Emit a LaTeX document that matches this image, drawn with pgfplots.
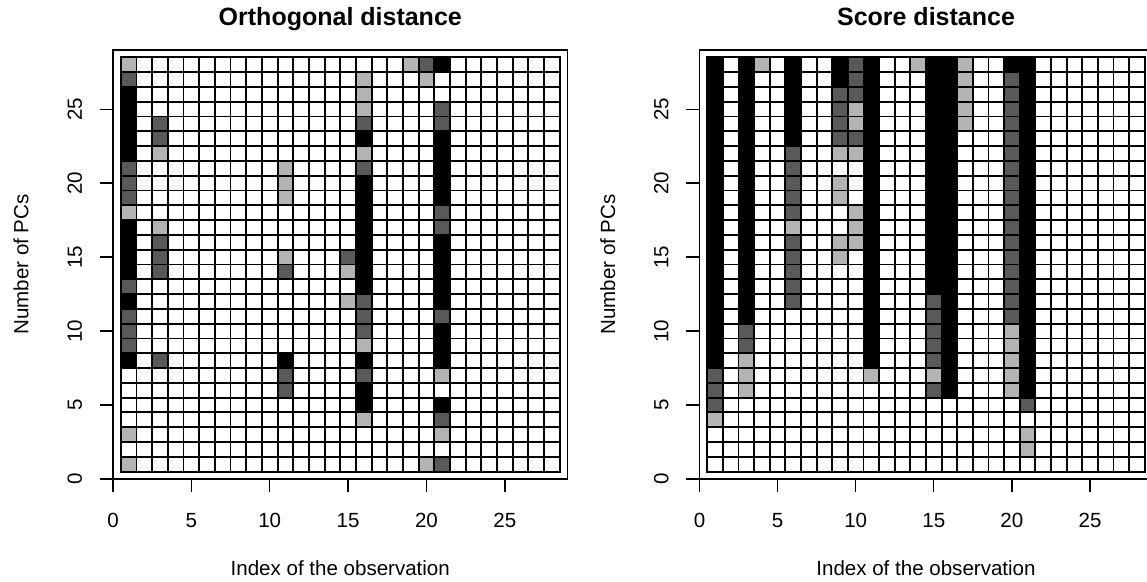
\documentclass[border=0pt]{standalone}
\usepackage{fontspec}
\setmainfont{Liberation Sans}
\usepackage{pgfplots}
\usepackage{pgfplotstable}
\pgfplotsset{compat=1.18}
\definecolor{lg}{HTML}{B3B3B3}
\definecolor{dg}{HTML}{595959}
\newcommand\tfs{\fontsize{15.4}{18}\selectfont}
\newcommand\ttfs{\fontsize{18.75}{22}\selectfont\bfseries}
% 0 = white, 1 = light grey, 2 = dark grey, 3 = black ; rows y=1..28, x=1..28
\pgfplotstableread[header=false,row sep=\\]{
1\\0\\0\\0\\0\\0\\0\\ 0\\0\\0\\0\\0\\0\\0\\ 0\\0\\0\\0\\0\\1\\2\\ 0\\0\\0\\0\\0\\0\\0\\
0\\0\\0\\0\\0\\0\\0\\ 0\\0\\0\\0\\0\\0\\0\\ 0\\0\\0\\0\\0\\0\\0\\ 0\\0\\0\\0\\0\\0\\0\\
1\\0\\0\\0\\0\\0\\0\\ 0\\0\\0\\0\\0\\0\\0\\ 0\\0\\0\\0\\0\\0\\1\\ 0\\0\\0\\0\\0\\0\\0\\
0\\0\\0\\0\\0\\0\\0\\ 0\\0\\0\\0\\0\\0\\0\\ 0\\1\\0\\0\\0\\0\\2\\ 0\\0\\0\\0\\0\\0\\0\\
0\\0\\0\\0\\0\\0\\0\\ 0\\0\\0\\0\\0\\0\\0\\ 0\\3\\0\\0\\0\\0\\3\\ 0\\0\\0\\0\\0\\0\\0\\
0\\0\\0\\0\\0\\0\\0\\ 0\\0\\0\\2\\0\\0\\0\\ 0\\3\\0\\0\\0\\0\\0\\ 0\\0\\0\\0\\0\\0\\0\\
0\\0\\0\\0\\0\\0\\0\\ 0\\0\\0\\2\\0\\0\\0\\ 0\\2\\0\\0\\0\\0\\1\\ 0\\0\\0\\0\\0\\0\\0\\
3\\0\\2\\0\\0\\0\\0\\ 0\\0\\0\\3\\0\\0\\0\\ 0\\3\\0\\0\\0\\0\\3\\ 0\\0\\0\\0\\0\\0\\0\\
2\\0\\0\\0\\0\\0\\0\\ 0\\0\\0\\0\\0\\0\\0\\ 0\\1\\0\\0\\0\\0\\3\\ 0\\0\\0\\0\\0\\0\\0\\
2\\0\\0\\0\\0\\0\\0\\ 0\\0\\0\\0\\0\\0\\0\\ 0\\2\\0\\0\\0\\0\\3\\ 0\\0\\0\\0\\0\\0\\0\\
2\\0\\0\\0\\0\\0\\0\\ 0\\0\\0\\0\\0\\0\\0\\ 0\\2\\0\\0\\0\\0\\2\\ 0\\0\\0\\0\\0\\0\\0\\
3\\0\\0\\0\\0\\0\\0\\ 0\\0\\0\\0\\0\\0\\0\\ 1\\2\\0\\0\\0\\0\\3\\ 0\\0\\0\\0\\0\\0\\0\\
2\\0\\0\\0\\0\\0\\0\\ 0\\0\\0\\0\\0\\0\\0\\ 0\\3\\0\\0\\0\\0\\3\\ 0\\0\\0\\0\\0\\0\\0\\
3\\0\\2\\0\\0\\0\\0\\ 0\\0\\0\\2\\0\\0\\0\\ 1\\3\\0\\0\\0\\0\\3\\ 0\\0\\0\\0\\0\\0\\0\\
3\\0\\2\\0\\0\\0\\0\\ 0\\0\\0\\1\\0\\0\\0\\ 2\\3\\0\\0\\0\\0\\3\\ 0\\0\\0\\0\\0\\0\\0\\
3\\0\\2\\0\\0\\0\\0\\ 0\\0\\0\\0\\0\\0\\0\\ 0\\3\\0\\0\\0\\0\\3\\ 0\\0\\0\\0\\0\\0\\0\\
3\\0\\1\\0\\0\\0\\0\\ 0\\0\\0\\0\\0\\0\\0\\ 0\\3\\0\\0\\0\\0\\2\\ 0\\0\\0\\0\\0\\0\\0\\
1\\0\\0\\0\\0\\0\\0\\ 0\\0\\0\\0\\0\\0\\0\\ 0\\3\\0\\0\\0\\0\\2\\ 0\\0\\0\\0\\0\\0\\0\\
2\\0\\0\\0\\0\\0\\0\\ 0\\0\\0\\1\\0\\0\\0\\ 0\\3\\0\\0\\0\\0\\3\\ 0\\0\\0\\0\\0\\0\\0\\
2\\0\\0\\0\\0\\0\\0\\ 0\\0\\0\\1\\0\\0\\0\\ 0\\3\\0\\0\\0\\0\\3\\ 0\\0\\0\\0\\0\\0\\0\\
2\\0\\0\\0\\0\\0\\0\\ 0\\0\\0\\1\\0\\0\\0\\ 0\\2\\0\\0\\0\\0\\3\\ 0\\0\\0\\0\\0\\0\\0\\
3\\0\\1\\0\\0\\0\\0\\ 0\\0\\0\\0\\0\\0\\0\\ 0\\1\\0\\0\\0\\0\\3\\ 0\\0\\0\\0\\0\\0\\0\\
3\\0\\2\\0\\0\\0\\0\\ 0\\0\\0\\0\\0\\0\\0\\ 0\\3\\0\\0\\0\\0\\3\\ 0\\0\\0\\0\\0\\0\\0\\
3\\0\\2\\0\\0\\0\\0\\ 0\\0\\0\\0\\0\\0\\0\\ 0\\2\\0\\0\\0\\0\\2\\ 0\\0\\0\\0\\0\\0\\0\\
3\\0\\0\\0\\0\\0\\0\\ 0\\0\\0\\0\\0\\0\\0\\ 0\\1\\0\\0\\0\\0\\2\\ 0\\0\\0\\0\\0\\0\\0\\
3\\0\\0\\0\\0\\0\\0\\ 0\\0\\0\\0\\0\\0\\0\\ 0\\1\\0\\0\\0\\0\\0\\ 0\\0\\0\\0\\0\\0\\0\\
2\\0\\0\\0\\0\\0\\0\\ 0\\0\\0\\0\\0\\0\\0\\ 0\\1\\0\\0\\0\\1\\0\\ 0\\0\\0\\0\\0\\0\\0\\
1\\0\\0\\0\\0\\0\\0\\ 0\\0\\0\\0\\0\\0\\0\\ 0\\0\\0\\0\\1\\2\\3\\ 0\\0\\0\\0\\0\\0\\0\\
}\ortho
\pgfplotstableread[header=false,row sep=\\]{
0\\0\\0\\0\\0\\0\\0\\ 0\\0\\0\\0\\0\\0\\0\\ 0\\0\\0\\0\\0\\0\\0\\ 0\\0\\0\\0\\0\\0\\0\\
0\\0\\0\\0\\0\\0\\0\\ 0\\0\\0\\0\\0\\0\\0\\ 0\\0\\0\\0\\0\\0\\1\\ 0\\0\\0\\0\\0\\0\\0\\
0\\0\\0\\0\\0\\0\\0\\ 0\\0\\0\\0\\0\\0\\0\\ 0\\0\\0\\0\\0\\0\\1\\ 0\\0\\0\\0\\0\\0\\0\\
1\\0\\0\\0\\0\\0\\0\\ 0\\0\\0\\0\\0\\0\\0\\ 0\\0\\0\\0\\0\\0\\0\\ 0\\0\\0\\0\\0\\0\\0\\
2\\0\\0\\0\\0\\0\\0\\ 0\\0\\0\\0\\0\\0\\0\\ 0\\0\\0\\0\\0\\0\\2\\ 0\\0\\0\\0\\0\\0\\0\\
2\\0\\1\\0\\0\\0\\0\\ 0\\0\\0\\0\\0\\0\\0\\ 2\\3\\0\\0\\0\\1\\3\\ 0\\0\\0\\0\\0\\0\\0\\
2\\0\\1\\0\\0\\0\\0\\ 0\\0\\0\\1\\0\\0\\0\\ 1\\3\\0\\0\\0\\1\\3\\ 0\\0\\0\\0\\0\\0\\0\\
3\\0\\1\\0\\0\\0\\0\\ 0\\0\\0\\3\\0\\0\\0\\ 2\\3\\0\\0\\0\\1\\3\\ 0\\0\\0\\0\\0\\0\\0\\
3\\0\\2\\0\\0\\0\\0\\ 0\\0\\0\\3\\0\\0\\0\\ 2\\3\\0\\0\\0\\1\\3\\ 0\\0\\0\\0\\0\\0\\0\\
3\\0\\2\\0\\0\\0\\0\\ 0\\0\\0\\3\\0\\0\\0\\ 2\\3\\0\\0\\0\\1\\3\\ 0\\0\\0\\0\\0\\0\\0\\
3\\0\\3\\0\\0\\0\\0\\ 0\\0\\0\\3\\0\\0\\0\\ 2\\3\\0\\0\\0\\2\\3\\ 0\\0\\0\\0\\0\\0\\0\\
3\\0\\3\\0\\0\\2\\0\\ 0\\0\\0\\3\\0\\0\\0\\ 2\\3\\0\\0\\0\\2\\3\\ 0\\0\\0\\0\\0\\0\\0\\
3\\0\\3\\0\\0\\2\\0\\ 0\\0\\0\\3\\0\\0\\0\\ 3\\3\\0\\0\\0\\2\\3\\ 0\\0\\0\\0\\0\\0\\0\\
3\\0\\3\\0\\0\\2\\0\\ 0\\0\\0\\3\\0\\0\\0\\ 3\\3\\0\\0\\0\\2\\3\\ 0\\0\\0\\0\\0\\0\\0\\
3\\0\\3\\0\\0\\2\\0\\ 0\\1\\0\\3\\0\\0\\0\\ 3\\3\\0\\0\\0\\2\\3\\ 0\\0\\0\\0\\0\\0\\0\\
3\\0\\3\\0\\0\\2\\0\\ 0\\1\\1\\3\\0\\0\\0\\ 3\\3\\0\\0\\0\\2\\3\\ 0\\0\\0\\0\\0\\0\\0\\
3\\0\\3\\0\\0\\1\\0\\ 0\\0\\1\\3\\0\\0\\0\\ 3\\3\\0\\0\\0\\2\\3\\ 0\\0\\0\\0\\0\\0\\0\\
3\\0\\3\\0\\0\\2\\0\\ 0\\0\\1\\3\\0\\0\\0\\ 3\\3\\0\\0\\0\\2\\3\\ 0\\0\\0\\0\\0\\0\\0\\
3\\0\\3\\0\\0\\2\\0\\ 0\\1\\0\\3\\0\\0\\0\\ 3\\3\\0\\0\\0\\2\\3\\ 0\\0\\0\\0\\0\\0\\0\\
3\\0\\3\\0\\0\\2\\0\\ 0\\1\\0\\3\\0\\0\\0\\ 3\\3\\0\\0\\0\\2\\3\\ 0\\0\\0\\0\\0\\0\\0\\
3\\0\\3\\0\\0\\2\\0\\ 0\\0\\0\\3\\0\\0\\0\\ 3\\3\\0\\0\\0\\2\\3\\ 0\\0\\0\\0\\0\\0\\0\\
3\\0\\3\\0\\0\\2\\0\\ 0\\1\\1\\3\\0\\0\\0\\ 3\\3\\0\\0\\0\\2\\3\\ 0\\0\\0\\0\\0\\0\\0\\
3\\0\\3\\0\\0\\3\\0\\ 0\\2\\2\\3\\0\\0\\0\\ 3\\3\\0\\0\\0\\2\\3\\ 0\\0\\0\\0\\0\\0\\0\\
3\\0\\3\\0\\0\\3\\0\\ 0\\2\\1\\3\\0\\0\\0\\ 3\\3\\1\\0\\0\\2\\3\\ 0\\0\\0\\0\\0\\0\\0\\
3\\0\\3\\0\\0\\3\\0\\ 0\\2\\1\\3\\0\\0\\0\\ 3\\3\\1\\0\\0\\2\\3\\ 0\\0\\0\\0\\0\\0\\0\\
3\\0\\3\\0\\0\\3\\0\\ 0\\2\\2\\3\\0\\0\\0\\ 3\\3\\1\\0\\0\\2\\3\\ 0\\0\\0\\0\\0\\0\\0\\
3\\0\\3\\0\\0\\3\\0\\ 0\\3\\2\\3\\0\\0\\0\\ 3\\3\\1\\0\\0\\2\\3\\ 0\\0\\0\\0\\0\\0\\0\\
3\\0\\3\\1\\0\\3\\0\\ 0\\3\\2\\3\\0\\0\\1\\ 3\\3\\1\\0\\0\\3\\3\\ 0\\0\\0\\0\\0\\0\\0\\
}\score
\pgfplotsset{
  myaxis/.style={
    scale only axis, height=321.75pt,
    xmin=0, xmax=29, ymin=0, ymax=29,
    axis line style={line width=1pt},
    tick pos=left, tick align=outside,
    xtick={0,5,...,25}, ytick={0,5,...,25},
    major tick length=10pt,
    every tick/.style={black, line width=1pt},
    /pgf/number format/assume math mode=true,
    tick label style={font=\tfs, inner sep=0pt},
    xticklabel style={anchor=base},
    yticklabel style={rotate=90, anchor=base},
    xticklabel shift=26pt,
    yticklabel shift=13.3pt,
    label style={font=\tfs, inner sep=0pt},
    xlabel={Index of the observation},
    ylabel={Number of PCs},
    xlabel style={at={(axis description cs:0.5,-0.2261)}, anchor=base},
    ylabel style={at={(axis description cs:-0.1864,0.5)}, anchor=base},
    title style={at={(axis description cs:0.5,1.0373)}, anchor=base, font=\ttfs, inner sep=0pt},
    colormap={ods}{color=(white) color=(lg) color=(dg) color=(black)},
  },
  cells/.style={matrix plot*, mesh/cols=28, point meta=explicit, colormap access=direct, draw=none},
}
\begin{document}
\begin{tikzpicture}
\useasboundingbox (0pt,0pt) rectangle (860.25pt,436.5pt);
\begin{axis}[myaxis, at={(84.75pt,77.25pt)}, anchor=south west, width=340.9pt, title={Orthogonal distance}]
\addplot[cells] table[x index=0, y index=0, meta index=0, x expr={mod(\coordindex,28)+1}, y expr={floor((\coordindex+0.5)/28)+1}] {\ortho};
\pgfplotsinvokeforeach{0.5,1.5,...,28.5}{
  \draw[line width=1.4pt, line cap=rect] (axis cs:#1,0.5) -- (axis cs:#1,28.5);
  \draw[line width=1.4pt, line cap=rect] (axis cs:0.5,#1) -- (axis cs:28.5,#1);
}
\end{axis}
\begin{axis}[myaxis, at={(524.625pt,77.25pt)}, anchor=south west, width=339.75pt, title={Score distance}]
\addplot[cells] table[x index=0, y index=0, meta index=0, x expr={mod(\coordindex,28)+1}, y expr={floor((\coordindex+0.5)/28)+1}] {\score};
\pgfplotsinvokeforeach{0.5,1.5,...,28.5}{
  \draw[line width=1.4pt, line cap=rect] (axis cs:#1,0.5) -- (axis cs:#1,28.5);
  \draw[line width=1.4pt, line cap=rect] (axis cs:0.5,#1) -- (axis cs:28.5,#1);
}
\end{axis}
\end{tikzpicture}
\end{document}
